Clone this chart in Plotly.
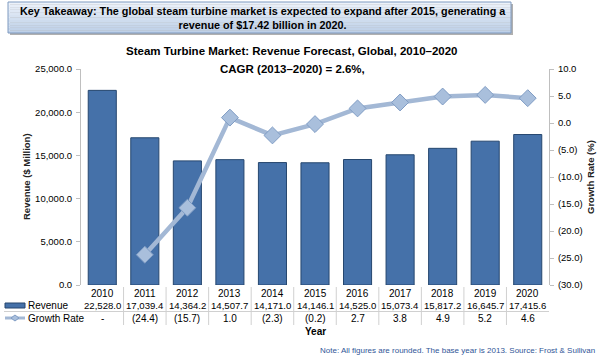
import plotly.graph_objects as go

years = ["2010", "2011", "2012", "2013", "2014", "2015", "2016", "2017", "2018", "2019", "2020"]
revenue = [22528.0, 17039.4, 14364.2, 14507.7, 14171.0, 14146.1, 14525.0, 15073.4, 15817.2, 16645.7, 17415.6]
growth = [None, -24.4, -15.7, 1.0, -2.3, -0.2, 2.7, 3.8, 4.9, 5.2, 4.6]
rev_labels = ["22,528.0", "17,039.4", "14,364.2", "14,507.7", "14,171.0", "14,146.1", "14,525.0", "15,073.4", "15,817.2", "16,645.7", "17,415.6"]
growth_labels = ["-", "(24.4)", "(15.7)", "1.0", "(2.3)", "(0.2)", "2.7", "3.8", "4.9", "5.2", "4.6"]
right_ticks = [-30, -25, -20, -15, -10, -5, 0, 5, 10]
right_ticktext = ["(30.0)", "(25.0)", "(20.0)", "(15.0)", "(10.0)", "(5.0)", "0.0", "5.0", "10.0"]

W, H = 600, 357
L, R, T, B = 81, 51, 69, 72   # plot edges in window pixels
PW = W - L - R
PH = H - T - B

def px(x):
    return (x - L) / PW

def py(y):
    return 1 - (y - T) / PH

fig = go.Figure()
fig.add_trace(go.Bar(
    x=list(range(len(years))), y=revenue, name="Revenue",
    marker=dict(color="#4571a9", line=dict(color="#26476f", width=1)),
    width=0.66, showlegend=False,
))
fig.add_trace(go.Scatter(
    x=list(range(len(years))), y=growth, name="Growth Rate", yaxis="y2",
    mode="lines+markers",
    line=dict(color="#a3b8d5", width=4.5),
    marker=dict(symbol="diamond", size=13, color="#a9bfdc", line=dict(color="#7f9cc4", width=1)),
    showlegend=False,
))

font = "Arial, Liberation Sans, sans-serif"
ann = []
shapes = []

# Title box (simulated gradient)
box_x0, box_x1, box_y0, box_y1 = 8, 511, 2, 33
shapes.append(dict(type="rect", xref="paper", yref="paper", x0=px(box_x0 + 2), x1=px(box_x1 + 2),
                   y0=py(box_y1 + 2), y1=py(box_y0 + 2), fillcolor="#b0b0b0", line=dict(width=0), layer="below"))
n = 12
c0 = (236, 242, 250)
c1 = (190, 208, 232)
for i in range(n):
    t = i / (n - 1)
    c = tuple(int(c0[k] + (c1[k] - c0[k]) * t) for k in range(3))
    ya = box_y0 + (box_y1 - box_y0) * i / n
    yb = box_y0 + (box_y1 - box_y0) * (i + 1) / n
    shapes.append(dict(type="rect", xref="paper", yref="paper", x0=px(box_x0), x1=px(box_x1),
                       y0=py(yb), y1=py(ya), fillcolor="rgb(%d,%d,%d)" % c, line=dict(width=0), layer="below"))
shapes.append(dict(type="rect", xref="paper", yref="paper", x0=px(box_x0), x1=px(box_x1),
                   y0=py(box_y1), y1=py(box_y0), line=dict(color="#7f9ac0", width=1)))

ann.append(dict(xref="paper", yref="paper", x=px(263), y=py(18), text="<b>Key Takeaway: The global steam turbine market is expected to expand after 2015, generating a<br>revenue of $17.42 billion in 2020.</b>",
                showarrow=False, font=dict(family=font, size=10.8, color="#000000"), xanchor="center", yanchor="middle", align="center"))

ann.append(dict(xref="paper", yref="paper", x=px(292), y=py(51), text="<b>Steam Turbine Market: Revenue Forecast, Global, 2010–2020</b>",
                showarrow=False, font=dict(family=font, size=11.5, color="#000000"), xanchor="center", yanchor="middle"))
ann.append(dict(xref="paper", yref="paper", x=px(292), y=py(69), text="<b>CAGR (2013–2020) = 2.6%,</b>",
                showarrow=False, font=dict(family=font, size=11.5, color="#000000"), xanchor="center", yanchor="middle"))

# Axis titles
ann.append(dict(xref="paper", yref="paper", x=px(26), y=py(177), text="<b>Revenue ($ Million)</b>", textangle=-90,
                showarrow=False, font=dict(family=font, size=9.5, color="#222222"), xanchor="center", yanchor="middle"))
ann.append(dict(xref="paper", yref="paper", x=px(590), y=py(177), text="<b>Growth Rate (%)</b>", textangle=-90,
                showarrow=False, font=dict(family=font, size=9.5, color="#222222"), xanchor="center", yanchor="middle"))

# Data table rows
for i in range(len(years)):
    ann.append(dict(xref="x", yref="paper", x=i, y=py(293), text=years[i], showarrow=False,
                    font=dict(family=font, size=10, color="#000000"), xanchor="center", yanchor="middle"))
    ann.append(dict(xref="x", yref="paper", x=i, y=py(305), text=rev_labels[i], showarrow=False,
                    font=dict(family=font, size=9.6, color="#000000"), xanchor="center", yanchor="middle"))
    ann.append(dict(xref="x", yref="paper", x=i, y=py(318), text=growth_labels[i], showarrow=False,
                    font=dict(family=font, size=10, color="#000000"), xanchor="center", yanchor="middle"))
    if i > 0:
        shapes.append(dict(type="line", xref="x", yref="paper", x0=i - 0.5, x1=i - 0.5, y0=py(287), y1=py(325),
                           line=dict(color="#d0d0d0", width=1)))
# horizontal separator
shapes.append(dict(type="line", xref="paper", yref="paper", x0=px(4), x1=px(549), y0=py(311.5), y1=py(311.5),
                   line=dict(color="#d0d0d0", width=1)))

# Legend keys
shapes.append(dict(type="rect", xref="paper", yref="paper", x0=px(5), x1=px(25), y0=py(308), y1=py(303),
                   fillcolor="#4571a9", line=dict(color="#26476f", width=1)))
shapes.append(dict(type="line", xref="paper", yref="paper", x0=px(5), x1=px(25), y0=py(318), y1=py(318),
                   line=dict(color="#a3b8d5", width=3)))
shapes.append(dict(type="path", xref="paper", yref="paper",
                   path="M %f %f L %f %f L %f %f L %f %f Z" % (px(11), py(318), px(15), py(315), px(19), py(318), px(15), py(321)),
                   fillcolor="#a9bfdc", line=dict(color="#7f9cc4", width=1)))
ann.append(dict(xref="paper", yref="paper", x=px(26), y=py(305), text="Revenue", showarrow=False,
                font=dict(family=font, size=10, color="#000000"), xanchor="left", yanchor="middle"))
ann.append(dict(xref="paper", yref="paper", x=px(26), y=py(318), text="Growth Rate", showarrow=False,
                font=dict(family=font, size=10, color="#000000"), xanchor="left", yanchor="middle"))

ann.append(dict(xref="paper", yref="paper", x=px(315), y=py(331), text="<b>Year</b>", showarrow=False,
                font=dict(family=font, size=10, color="#000000"), xanchor="center", yanchor="middle"))

ann.append(dict(xref="paper", yref="paper", x=px(597), y=py(350), text="Note: All figures are rounded. The base year is 2013. Source: Frost & Sullivan",
                showarrow=False, font=dict(family=font, size=8, color="#2f5597"), xanchor="right", yanchor="middle"))

fig.update_layout(
    width=W, height=H,
    margin=dict(l=L, r=R, t=T, b=B, autoexpand=False),
    paper_bgcolor="white", plot_bgcolor="white",
    bargap=0.34,
    xaxis=dict(range=[-0.5, len(years) - 0.5], showticklabels=False, showgrid=False, zeroline=False,
               showline=False, ticks="", automargin=False),
    yaxis=dict(range=[0, 25000], tickvals=[0, 5000, 10000, 15000, 20000, 25000], tickformat=",.1f",
               showgrid=False, zeroline=False, showline=True, linecolor="#bfbfbf", linewidth=1,
               ticks="outside", ticklen=4, tickcolor="#bfbfbf", automargin=False, ticklabelstandoff=2,
               tickfont=dict(family=font, size=9.5, color="#000000")),
    yaxis2=dict(range=[-30, 10], overlaying="y", side="right", tickvals=right_ticks, ticktext=right_ticktext,
                showgrid=False, zeroline=False, showline=True, linecolor="#bfbfbf", linewidth=1,
                ticks="outside", ticklen=4, tickcolor="#bfbfbf", automargin=False, ticklabelstandoff=2,
                tickfont=dict(family=font, size=9.5, color="#000000")),
    annotations=ann,
    shapes=shapes,
    showlegend=False,
)

fig.write_html("out.html", config={"displayModeBar": False},
               post_script="document.body.style.margin='0px';document.body.style.overflow='hidden';")
